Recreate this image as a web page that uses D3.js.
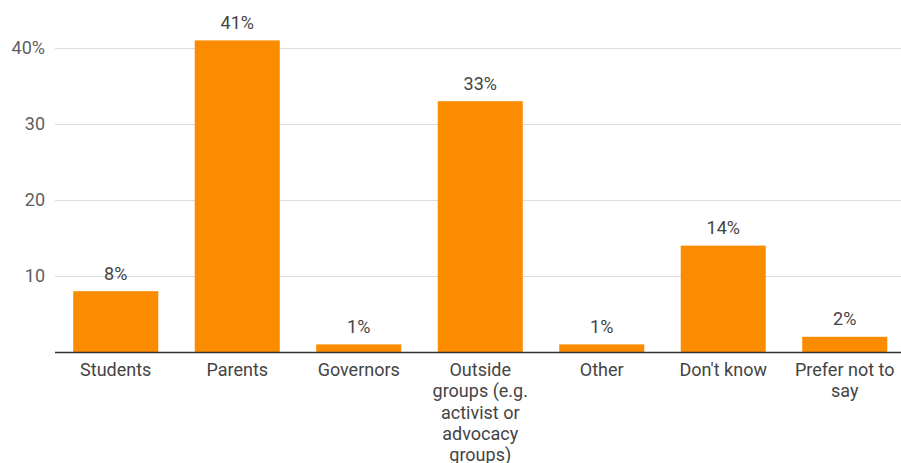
<!DOCTYPE html>
<html>
<head>
<meta charset="utf-8">
<script src="https://cdn.jsdelivr.net/npm/d3@7"></script>
<style>
  html, body { margin: 0; padding: 0; background: #fff; }
  svg { display: block; font-family: Roboto, "Noto Sans", sans-serif; }
</style>
</head>
<body>
<svg id="chart" width="901" height="463"></svg>
<script>
// Who respondents think is driving the issue (% of responses)
const categories = [
  "Students",
  "Parents",
  "Governors",
  "Outside groups (e.g. activist or advocacy groups)",
  "Other",
  "Don't know",
  "Prefer not to say"
];
const values = [8, 41, 1, 33, 1, 14, 2];
const yTicks = [10, 20, 30, 40];

const W = 901, H = 463;
const margin = { top: 0, right: 0, bottom: 111, left: 55 };
const baseY = 352;
const fontSize = 18;

const svg = d3.select("#chart");

const x = d3.scaleBand()
  .domain(categories)
  .range([margin.left, 905.5])
  .paddingInner(0.3)
  .paddingOuter(0.15);

const y = d3.scaleLinear()
  .domain([0, 40])
  .range([baseY, 48]);

// gridlines
svg.append("g")
  .selectAll("line")
  .data(yTicks)
  .join("line")
  .attr("x1", margin.left)
  .attr("x2", W)
  .attr("y1", d => Math.round(y(d)) + 0.5)
  .attr("y2", d => Math.round(y(d)) + 0.5)
  .attr("stroke", "#dcdcdc")
  .attr("stroke-width", 1);

// y tick labels
svg.append("g")
  .selectAll("text")
  .data(yTicks)
  .join("text")
  .attr("x", 45)
  .attr("y", d => y(d))
  .attr("dy", "0.35em")
  .attr("text-anchor", "end")
  .attr("font-size", fontSize)
  .attr("fill", "#5f5f5f")
  .text(d => d === 40 ? d + "%" : d);

// bars
svg.append("g")
  .selectAll("rect")
  .data(values)
  .join("rect")
  .attr("x", (d, i) => x(categories[i]))
  .attr("width", x.bandwidth())
  .attr("y", d => y(d))
  .attr("height", d => baseY - y(d))
  .attr("fill", "#fb8c00");

// value labels
svg.append("g")
  .selectAll("text")
  .data(values)
  .join("text")
  .attr("x", (d, i) => x(categories[i]) + x.bandwidth() / 2)
  .attr("y", d => y(d) - 11.5)
  .attr("text-anchor", "middle")
  .attr("font-size", fontSize)
  .attr("fill", "#444")
  .text(d => d + "%");

// baseline
svg.append("line")
  .attr("x1", margin.left)
  .attr("x2", W)
  .attr("y1", baseY + 0.5)
  .attr("y2", baseY + 0.5)
  .attr("stroke", "#333")
  .attr("stroke-width", 1.3);

// category labels, wrapped to a fixed width
const xAxis = d3.axisBottom(x).tickSize(0).tickPadding(0);
const gx = svg.append("g")
  .attr("transform", `translate(0,${baseY})`)
  .call(xAxis);
gx.select(".domain").remove();
gx.selectAll(".tick text")
  .attr("font-size", fontSize)
  .attr("font-family", "Roboto, sans-serif")
  .attr("fill", "#444")
  .attr("y", 24)
  .attr("dy", 0)
  .each(function (label) {
    const text = d3.select(this);
    const words = label.split(/\s+/);
    text.text(null);
    const maxW = 112;
    let line = [];
    let lineNo = 0;
    let tspan = text.append("tspan").attr("x", 0).attr("y", 24);
    for (const w of words) {
      line.push(w);
      tspan.text(line.join(" "));
      if (tspan.node().getComputedTextLength() > maxW && line.length > 1) {
        line.pop();
        tspan.text(line.join(" "));
        line = [w];
        lineNo++;
        tspan = text.append("tspan").attr("x", 0).attr("y", 24 + lineNo * 21.3).text(w);
      }
    }
  });
</script>
</body>
</html>
